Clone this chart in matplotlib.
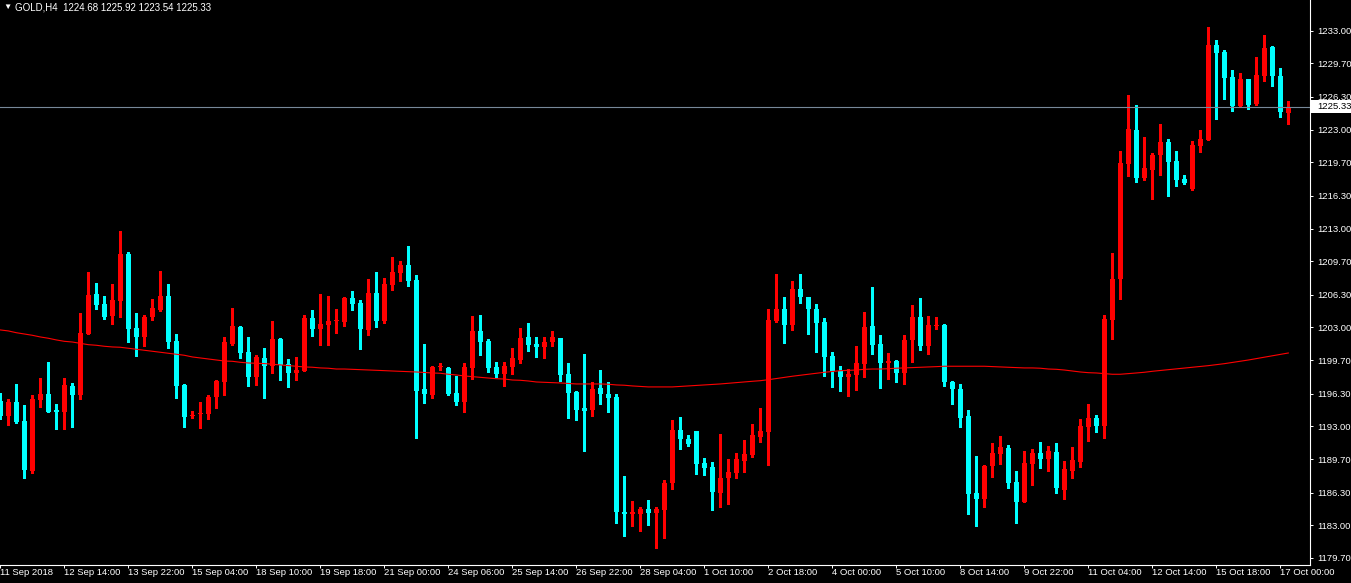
import matplotlib
matplotlib.use('Agg')
import matplotlib.pyplot as plt
import matplotlib.transforms as mtransforms
from matplotlib.patches import Rectangle
import numpy as np

plt.rcParams['font.family'] = ['Liberation Sans', 'DejaVu Sans']

# GOLD H4 candles
opens = [1195.57, 1194.09, 1195.47, 1193.55, 1188.46, 1195.67, 1196.28, 1194.66, 1194.46, 1197.08,
         1196.17, 1202.34, 1206.38, 1205.37, 1204.17, 1205.68, 1210.43, 1202.95, 1202.04, 1204.07,
         1204.77, 1206.19, 1201.64, 1197.19, 1194.06, 1194.26, 1194.26, 1195.97, 1197.49, 1201.33,
         1203.05, 1200.52, 1197.99, 1199.91, 1199.10, 1201.83, 1199.31, 1198.40, 1198.60, 1203.96,
         1202.84, 1203.25, 1203.62, 1203.55, 1205.98, 1205.47, 1202.74, 1206.48, 1203.65, 1207.29,
         1208.50, 1209.31, 1207.80, 1196.78, 1196.18, 1199.01, 1198.91, 1196.38, 1195.47, 1198.91,
         1202.65, 1201.64, 1199.01, 1198.30, 1199.01, 1199.72, 1202.04, 1201.33, 1201.03, 1201.54,
         1201.94, 1198.30, 1196.48, 1194.87, 1194.66, 1196.89, 1196.28, 1195.98, 1184.35, 1184.15,
         1184.15, 1184.65, 1184.25, 1184.55, 1187.28, 1192.64, 1191.73, 1192.54, 1189.30, 1188.90,
         1186.27, 1187.79, 1188.29, 1189.50, 1190.11, 1191.93, 1192.43, 1203.65, 1204.87, 1203.25,
         1206.89, 1206.08, 1204.87, 1203.55, 1200.12, 1198.60, 1198.00, 1198.20, 1199.31, 1203.15,
         1201.33, 1199.41, 1199.61, 1198.40, 1201.74, 1204.06, 1201.13, 1203.15, 1203.25, 1197.49,
         1196.78, 1194.05, 1186.27, 1185.66, 1189.00, 1190.21, 1190.82, 1187.38, 1185.36, 1189.20,
         1190.31, 1189.70, 1190.40, 1186.60, 1188.50, 1189.40, 1192.95, 1193.86, 1193.05, 1203.76,
         1207.91, 1219.53, 1222.97, 1218.12, 1218.92, 1220.43, 1221.75, 1219.83, 1218.01, 1217.00,
         1221.34, 1221.95, 1231.55, 1230.85, 1228.32, 1225.39, 1228.12, 1225.59, 1228.42, 1231.35,
         1228.42, 1224.68]
highs = [1196.38, 1195.77, 1197.29, 1195.16, 1196.17, 1197.89, 1199.51, 1195.26, 1197.89, 1197.39,
         1204.46, 1208.61, 1207.50, 1206.18, 1207.40, 1212.76, 1210.64, 1204.47, 1204.27, 1205.88,
         1208.72, 1207.40, 1202.35, 1197.29, 1194.56, 1195.47, 1196.18, 1197.69, 1202.04, 1204.97,
         1203.15, 1202.04, 1200.22, 1200.92, 1203.65, 1201.93, 1199.81, 1200.01, 1204.26, 1204.76,
         1206.38, 1206.18, 1204.87, 1206.08, 1206.69, 1205.78, 1207.90, 1208.61, 1208.00, 1210.12,
         1209.72, 1211.23, 1208.30, 1201.33, 1199.11, 1199.41, 1199.01, 1198.10, 1199.41, 1204.16,
         1204.26, 1201.84, 1199.51, 1199.51, 1200.93, 1202.95, 1203.46, 1202.04, 1202.04, 1202.65,
         1201.94, 1199.41, 1196.58, 1200.32, 1197.49, 1198.71, 1197.49, 1196.28, 1187.99, 1185.46,
         1184.85, 1185.56, 1184.85, 1187.58, 1193.65, 1193.95, 1192.13, 1192.54, 1189.81, 1189.40,
         1192.23, 1189.71, 1190.31, 1191.63, 1193.24, 1194.86, 1204.87, 1208.40, 1206.08, 1207.70,
         1208.40, 1206.08, 1205.37, 1203.96, 1200.52, 1199.11, 1198.80, 1201.13, 1204.57, 1207.09,
         1202.24, 1200.42, 1199.71, 1202.24, 1205.27, 1205.98, 1204.16, 1204.06, 1203.35, 1197.59,
         1197.28, 1194.66, 1190.01, 1189.10, 1191.32, 1192.03, 1191.12, 1188.49, 1190.51, 1190.71,
         1191.42, 1191.00, 1191.30, 1189.50, 1190.90, 1193.75, 1195.27, 1194.16, 1204.27, 1210.53,
         1220.84, 1226.50, 1225.49, 1222.26, 1220.64, 1223.57, 1222.05, 1220.84, 1218.41, 1221.85,
         1222.96, 1233.37, 1232.06, 1231.05, 1229.03, 1228.72, 1228.12, 1230.34, 1232.56, 1231.45,
         1229.23, 1225.92]
lows = [1193.75, 1193.14, 1193.34, 1187.78, 1188.32, 1194.96, 1194.46, 1192.74, 1192.74, 1192.94,
        1195.77, 1202.34, 1204.87, 1203.86, 1203.36, 1204.07, 1201.54, 1200.12, 1201.13, 1203.76,
        1204.67, 1200.93, 1195.88, 1192.95, 1193.86, 1192.85, 1193.76, 1194.86, 1196.17, 1201.23,
        1199.91, 1197.08, 1197.18, 1195.87, 1198.40, 1197.69, 1196.98, 1197.69, 1198.60, 1202.14,
        1201.23, 1201.23, 1202.44, 1203.15, 1204.76, 1200.82, 1202.24, 1203.05, 1203.45, 1206.79,
        1207.70, 1207.19, 1191.83, 1195.37, 1195.87, 1198.70, 1196.18, 1195.17, 1194.46, 1197.79,
        1200.22, 1198.50, 1198.00, 1197.09, 1198.30, 1199.41, 1200.63, 1200.02, 1199.92, 1201.13,
        1197.59, 1193.85, 1193.65, 1190.52, 1194.06, 1195.27, 1194.46, 1183.24, 1181.93, 1182.93,
        1182.43, 1183.03, 1180.71, 1181.72, 1186.67, 1190.72, 1191.02, 1188.19, 1188.09, 1184.55,
        1184.85, 1185.16, 1187.78, 1188.39, 1189.91, 1191.42, 1189.10, 1203.55, 1201.43, 1202.74,
        1205.47, 1202.34, 1200.52, 1198.10, 1196.98, 1196.58, 1196.08, 1196.68, 1198.00, 1200.32,
        1196.88, 1197.79, 1197.49, 1197.29, 1199.51, 1200.73, 1200.32, 1202.85, 1197.08, 1195.26,
        1192.94, 1184.14, 1182.93, 1184.85, 1187.88, 1189.20, 1186.77, 1183.23, 1185.36, 1187.08,
        1188.79, 1188.50, 1186.30, 1185.70, 1187.80, 1188.90, 1191.50, 1192.44, 1191.84, 1201.84,
        1205.89, 1218.32, 1217.71, 1217.91, 1215.99, 1218.41, 1216.29, 1217.30, 1217.50, 1216.90,
        1220.74, 1221.95, 1224.07, 1226.09, 1224.88, 1225.29, 1225.08, 1225.49, 1227.91, 1227.41,
        1224.28, 1223.54]
closes = [1194.09, 1195.47, 1193.45, 1188.59, 1195.77, 1196.28, 1194.46, 1194.46, 1197.19, 1196.17,
          1202.44, 1206.28, 1205.27, 1204.06, 1205.78, 1210.43, 1202.85, 1202.04, 1204.07, 1204.98,
          1206.19, 1201.54, 1197.09, 1193.96, 1194.16, 1194.36, 1195.98, 1197.59, 1201.53, 1203.15,
          1200.42, 1197.99, 1200.01, 1199.10, 1201.83, 1199.21, 1198.40, 1198.70, 1203.96, 1202.84,
          1203.35, 1203.65, 1203.65, 1205.98, 1205.37, 1202.84, 1206.48, 1203.65, 1207.39, 1208.61,
          1209.31, 1207.70, 1196.58, 1196.28, 1199.01, 1199.07, 1196.28, 1195.47, 1199.01, 1202.65,
          1201.53, 1198.91, 1198.30, 1199.11, 1199.92, 1201.94, 1201.23, 1201.03, 1201.54, 1202.04,
          1198.20, 1196.38, 1194.66, 1194.56, 1196.79, 1196.28, 1195.88, 1184.35, 1184.15, 1184.35,
          1184.65, 1184.25, 1184.65, 1187.28, 1192.64, 1191.73, 1191.22, 1189.20, 1188.80, 1186.37,
          1187.79, 1188.39, 1189.71, 1190.21, 1192.13, 1192.54, 1203.76, 1204.87, 1203.25, 1206.89,
          1206.08, 1204.87, 1203.45, 1200.02, 1198.60, 1198.00, 1198.30, 1199.41, 1203.05, 1201.23,
          1199.41, 1199.61, 1198.40, 1201.74, 1204.06, 1201.13, 1203.25, 1203.25, 1197.49, 1196.78,
          1193.85, 1186.17, 1185.66, 1189.00, 1190.31, 1190.92, 1187.28, 1185.36, 1189.30, 1190.31,
          1189.70, 1190.50, 1186.80, 1188.70, 1189.60, 1193.05, 1193.86, 1193.05, 1203.86, 1207.91,
          1219.63, 1223.07, 1218.12, 1219.13, 1220.43, 1221.75, 1219.73, 1217.91, 1217.60, 1221.45,
          1222.05, 1231.55, 1230.74, 1228.22, 1225.39, 1228.12, 1225.49, 1228.52, 1231.25, 1228.42,
          1224.78, 1225.33]

# moving average line, one value per candle
ma_values = [1202.75, 1202.65, 1202.47, 1202.34, 1202.21, 1202.04, 1201.91, 1201.74, 1201.60, 1201.53,
             1201.40, 1201.26, 1201.20, 1201.10, 1201.03, 1201.00, 1200.90, 1200.80, 1200.69, 1200.59,
             1200.49, 1200.39, 1200.29, 1200.19, 1200.02, 1199.92, 1199.82, 1199.71, 1199.61, 1199.58,
             1199.48, 1199.41, 1199.38, 1199.35, 1199.28, 1199.21, 1199.14, 1199.08, 1199.01, 1198.98,
             1198.91, 1198.88, 1198.80, 1198.80, 1198.77, 1198.73, 1198.70, 1198.67, 1198.63, 1198.60,
             1198.57, 1198.53, 1198.50, 1198.45, 1198.40, 1198.37, 1198.27, 1198.20, 1198.10, 1198.03,
             1197.97, 1197.89, 1197.82, 1197.79, 1197.69, 1197.66, 1197.59, 1197.49, 1197.46, 1197.44,
             1197.39, 1197.34, 1197.29, 1197.29, 1197.29, 1197.29, 1197.26, 1197.19, 1197.16, 1197.09,
             1197.04, 1196.99, 1196.99, 1196.99, 1196.99, 1197.04, 1197.09, 1197.14, 1197.19, 1197.24,
             1197.29, 1197.36, 1197.42, 1197.49, 1197.56, 1197.62, 1197.72, 1197.84, 1197.97, 1198.07,
             1198.17, 1198.27, 1198.37, 1198.47, 1198.55, 1198.63, 1198.67, 1198.70, 1198.77, 1198.80,
             1198.80, 1198.83, 1198.88, 1198.91, 1198.94, 1198.98, 1199.01, 1199.04, 1199.08, 1199.08,
             1199.08, 1199.08, 1199.08, 1199.08, 1199.04, 1199.01, 1198.98, 1198.94, 1198.91, 1198.91,
             1198.88, 1198.80, 1198.77, 1198.70, 1198.60, 1198.50, 1198.43, 1198.40, 1198.33, 1198.27,
             1198.27, 1198.33, 1198.40, 1198.47, 1198.57, 1198.65, 1198.73, 1198.80, 1198.88, 1198.96,
             1199.04, 1199.14, 1199.24, 1199.34, 1199.46, 1199.58, 1199.71, 1199.85, 1199.99, 1200.12,
             1200.27, 1200.42]

price_ticks = [1233.00, 1229.70, 1226.30, 1223.00, 1219.70, 1216.30, 1213.00, 1209.70, 1206.30,
               1203.00, 1199.70, 1196.30, 1193.00, 1189.70, 1186.30, 1183.00, 1179.70]
date_labels = ['11 Sep 2018', '12 Sep 14:00', '13 Sep 22:00', '15 Sep 04:00', '18 Sep 10:00',
               '19 Sep 18:00', '21 Sep 00:00', '24 Sep 06:00', '25 Sep 14:00', '26 Sep 22:00',
               '28 Sep 04:00', '1 Oct 10:00', '2 Oct 18:00', '4 Oct 00:00', '5 Oct 10:00',
               '8 Oct 14:00', '9 Oct 22:00', '11 Oct 04:00', '12 Oct 14:00', '15 Oct 18:00',
               '17 Oct 00:00']
label_step = 8
symbol = 'GOLD,H4'
bid = 1225.33

BULL = '#ff0000'
BEAR = '#00ffff'
W, H = 1351, 583

fig = plt.figure(figsize=(W / 100, H / 100), dpi=100, facecolor='black')
ax = fig.add_axes([0, 18 / H, 1310 / W, 565 / H], facecolor='black')

o = np.array(opens)
hi = np.array(highs)
lo = np.array(lows)
c = np.array(closes)
x = np.arange(len(o))
colors = np.where(c >= o, BULL, BEAR)

# wicks then bodies
ax.vlines(x, lo, hi, colors=colors, linewidth=0.75, antialiased=False, zorder=2)
body_lo = np.minimum(o, c)
body_h = np.maximum(np.abs(c - o), 0.1)
ax.bar(x, body_h, bottom=body_lo, width=0.625, color=colors, linewidth=0,
       antialiased=False, zorder=3)

ax.plot(x, ma_values, color=BULL, linewidth=0.8, zorder=4)
ax.axhline(bid, color='#778899', linewidth=0.8, zorder=5)

ax.set_xlim(-0.04, 163.71)
ax.set_ylim(1178.99, 1236.10)

# axes look (MT4 style)
for side in ['top', 'left']:
    ax.spines[side].set_visible(False)
for side in ['right', 'bottom']:
    ax.spines[side].set_color('white')
    ax.spines[side].set_linewidth(0.8)

ax.yaxis.tick_right()
ax.set_yticks(price_ticks)
ax.set_yticklabels([f'{v:.2f}' for v in price_ticks])
ax.tick_params(axis='y', colors='white', labelsize=6.8, length=2.5, width=0.7, pad=2.5)

ax.set_xticks(np.arange(len(date_labels)) * label_step)
ax.set_xticklabels(date_labels)
ax.tick_params(axis='x', colors='white', labelsize=6.8, length=2, width=0.7, pad=0)
for lbl in ax.get_xticklabels():
    lbl.set_ha('left')

# bid price box on the right scale
trans = mtransforms.blended_transform_factory(fig.transFigure, ax.transData)
ax.add_patch(Rectangle((1311 / W, bid - 0.65), 40 / W, 1.3, transform=trans,
                       facecolor='white', edgecolor='none', clip_on=False, zorder=6))
ax.text(1317 / W, bid, f'{bid:.2f}', transform=trans, color='black', fontsize=6.8,
        va='center', ha='left', clip_on=False, zorder=7)

# header
hdr = f'{symbol}  {opens[-1]:.2f} {highs[-1]:.2f} {lows[-1]:.2f} {closes[-1]:.2f}'
fig.text(3 / W, 1 - 7 / H, '\u25bc', color='white', fontsize=6, va='center', ha='left')
fig.text(15 / W, 1 - 7 / H, hdr, color='white', fontsize=7, va='center', ha='left')

fig.savefig('out.png', dpi=100, facecolor='black')
